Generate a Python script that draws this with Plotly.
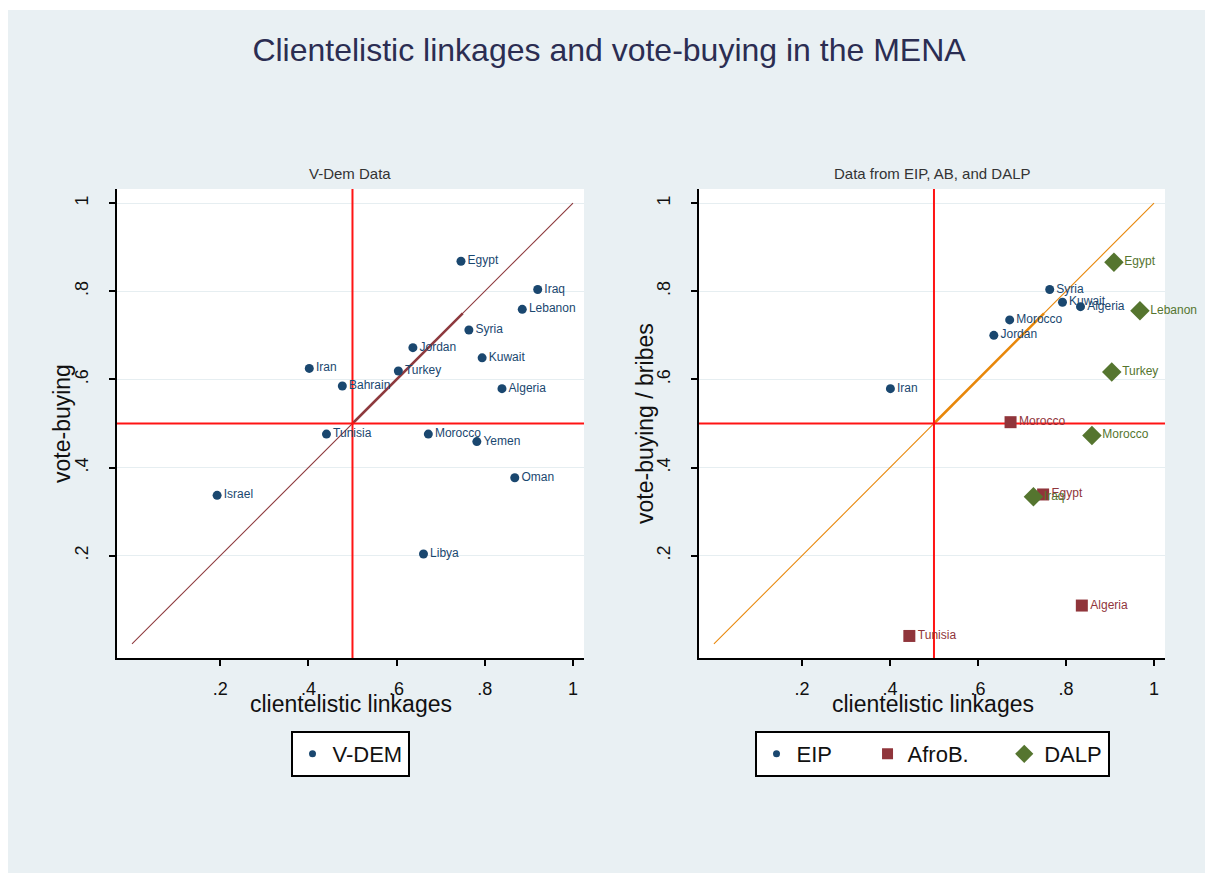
import plotly.graph_objects as go

W, H = 1205, 879
BG = "#e9f0f3"
GRID = "#e6eef1"
NAVY = "#1a476f"
MAROON = "#90353b"
GREEN = "#55752f"
RED = "#ff1414"
DIAG_LEFT = "#8e3a3e"
DIAG_RIGHT = "#e8870a"
FONT = "Liberation Sans, Arial, sans-serif"
NBSP = "\u00a0"

# V-Dem: clientelistic linkages vs. vote-buying
vdem_country = ["Egypt", "Iraq", "Lebanon", "Syria", "Jordan", "Kuwait", "Iran", "Turkey",
                "Bahrain", "Algeria", "Tunisia", "Morocco", "Yemen", "Oman", "Israel", "Libya"]
vdem_clientelism = [0.746, 0.920, 0.885, 0.764, 0.637, 0.794, 0.402, 0.604,
                    0.477, 0.839, 0.441, 0.672, 0.782, 0.868, 0.193, 0.661]
vdem_votebuying = [0.868, 0.804, 0.759, 0.712, 0.672, 0.649, 0.625, 0.619,
                   0.585, 0.579, 0.476, 0.476, 0.459, 0.377, 0.337, 0.204]

# Electoral Integrity Project
eip_country = ["Syria", "Kuwait", "Algeria", "Morocco", "Jordan", "Iran"]
eip_clientelism = [0.763, 0.792, 0.833, 0.672, 0.636, 0.401]
eip_votebuying = [0.804, 0.775, 0.765, 0.735, 0.700, 0.579]

# Afrobarometer
afro_country = ["Morocco", "Egypt", "Algeria", "Tunisia"]
afro_clientelism = [0.674, 0.748, 0.836, 0.444]
afro_bribes = [0.503, 0.339, 0.087, 0.018]

# Democratic Accountability and Linkages Project
dalp_country = ["Egypt", "Lebanon", "Turkey", "Morocco", "Iraq"]
dalp_clientelism = [0.909, 0.968, 0.904, 0.859, 0.726]
dalp_votebuying = [0.866, 0.756, 0.617, 0.473, 0.334]

tick_vals = [0.2, 0.4, 0.6, 0.8, 1.0]
tick_text = [".2", ".4", ".6", ".8", "1"]
x_range = [-0.034, 1.025]
y_range = [-0.032, 1.032]
cutoff = 0.5
diagonal = [0, 1]
fit_span = [0.5, 0.75]

# pixel layout of the two panels
PLOT_TOP, PLOT_BOTTOM = 189, 658
LEFT_PANEL = (117, 584)
RIGHT_PANEL = (699, 1165)


def fx(p):
    return p / W


def fy(p):
    return 1 - p / H


fig = go.Figure()


def add_line(xs, ys, color, width, xa, ya):
    fig.add_trace(go.Scatter(
        x=xs, y=ys, mode="lines", line=dict(color=color, width=width),
        showlegend=False, xaxis=xa, yaxis=ya, hoverinfo="skip"))


def add_points(xs, ys, names, color, symbol, size, xa, ya):
    fig.add_trace(go.Scatter(
        x=xs, y=ys, text=names, mode="markers+text", textposition="middle right",
        marker=dict(color=color, size=size, symbol=symbol, line=dict(width=0)),
        textfont=dict(color=color, size=12, family=FONT),
        showlegend=False, xaxis=xa, yaxis=ya, cliponaxis=False, hoverinfo="skip"))


def add_legend_key(name, color, symbol, size, legend):
    fig.add_trace(go.Scatter(
        x=[None], y=[None], mode="markers", name=name,
        marker=dict(color=color, size=size, symbol=symbol),
        legend=legend, showlegend=True))


# 45-degree line, its highlighted segment and the 0.5 reference lines in each panel
for xa, ya, dcol in (("x", "y", DIAG_LEFT), ("x2", "y2", DIAG_RIGHT)):
    add_line(diagonal, diagonal, dcol, 1.1, xa, ya)
    add_line(fit_span, fit_span, dcol, 2.5, xa, ya)
    add_line(x_range, [cutoff, cutoff], RED, 2, xa, ya)
    add_line([cutoff, cutoff], y_range, RED, 2, xa, ya)

add_points(vdem_clientelism, vdem_votebuying, vdem_country, NAVY, "circle", 9, "x", "y")
add_points(eip_clientelism, eip_votebuying, eip_country, NAVY, "circle", 9, "x2", "y2")
add_points(afro_clientelism, afro_bribes, afro_country, MAROON, "square", 12, "x2", "y2")
add_points(dalp_clientelism, dalp_votebuying, dalp_country, GREEN, "diamond", 15, "x2", "y2")

add_legend_key("V-DEM", NAVY, "circle", 7, "legend")
add_legend_key("EIP" + NBSP * 5, NAVY, "circle", 7, "legend2")
add_legend_key("AfroB." + NBSP * 5, MAROON, "square", 11, "legend2")
add_legend_key("DALP", GREEN, "diamond", 14, "legend2")


def xaxis(dom):
    return dict(domain=[fx(dom[0]), fx(dom[1])], range=x_range, tickvals=tick_vals,
                ticktext=tick_text, ticks="outside", ticklen=6, tickwidth=1.5,
                tickcolor="black", showline=True, linecolor="black", linewidth=1.5,
                showgrid=False, zeroline=False, fixedrange=True,
                tickfont=dict(size=18, family=FONT, color="#111"), ticklabelstandoff=8)


def yaxis(anchor):
    return dict(domain=[fy(PLOT_BOTTOM), fy(PLOT_TOP)], range=y_range, tickvals=tick_vals,
                ticktext=tick_text, ticks="outside", ticklen=6, tickwidth=1.5,
                tickcolor="black", showline=True, linecolor="black", linewidth=1.5,
                showgrid=True, gridcolor=GRID, gridwidth=1, zeroline=False,
                tickangle=-90, anchor=anchor, fixedrange=True,
                tickfont=dict(size=18, family=FONT, color="#111"), ticklabelstandoff=14)


shapes = [
    # white frame around the graph region
    dict(type="rect", xref="paper", yref="paper", x0=0, x1=1, y0=fy(0), y1=fy(10),
         fillcolor="white", line=dict(width=0), layer="below"),
    dict(type="rect", xref="paper", yref="paper", x0=0, x1=fx(8), y0=0, y1=1,
         fillcolor="white", line=dict(width=0), layer="below"),
    dict(type="rect", xref="paper", yref="paper", x0=0, x1=1, y0=0, y1=fy(873),
         fillcolor="white", line=dict(width=0), layer="below"),
]


def label(text, x, y, size, color="#111", angle=0):
    return dict(text=text, x=fx(x), y=fy(y), xref="paper", yref="paper",
                xanchor="center", yanchor="middle", textangle=angle, showarrow=False,
                font=dict(size=size, family=FONT, color=color))


annotations = [
    label("V-Dem Data", 350, 173, 15, "#333"),
    label("Data from EIP, AB, and DALP", 932, 173, 15, "#333"),
    label("clientelistic linkages", 351, 704, 23),
    label("clientelistic linkages", 933, 704, 23),
    label("vote-buying", 62, 424, 23, angle=-90),
    label("vote-buying / bribes", 645, 424, 23, angle=-90),
]

legend_style = dict(bgcolor="white", bordercolor="black", borderwidth=2,
                    font=dict(size=22, family=FONT, color="#111"),
                    orientation="h", xanchor="center", yanchor="top")

fig.update_layout(
    width=W, height=H, autosize=False,
    margin=dict(l=0, r=0, t=0, b=0),
    paper_bgcolor=BG, plot_bgcolor="white",
    title=dict(text="Clientelistic linkages and vote-buying in the MENA",
               x=fx(609), xanchor="center", y=fy(50), yanchor="middle",
               font=dict(size=32, family=FONT, color="#2b2d52")),
    xaxis=xaxis(LEFT_PANEL) | dict(anchor="y"),
    yaxis=yaxis("x"),
    xaxis2=xaxis(RIGHT_PANEL) | dict(anchor="y2"),
    yaxis2=yaxis("x2"),
    legend=legend_style | dict(x=fx(350), y=fy(731)),
    legend2=legend_style | dict(x=fx(932), y=fy(731)),
    shapes=shapes,
    annotations=annotations,
    showlegend=True,
)

fig.write_html("out.html")
